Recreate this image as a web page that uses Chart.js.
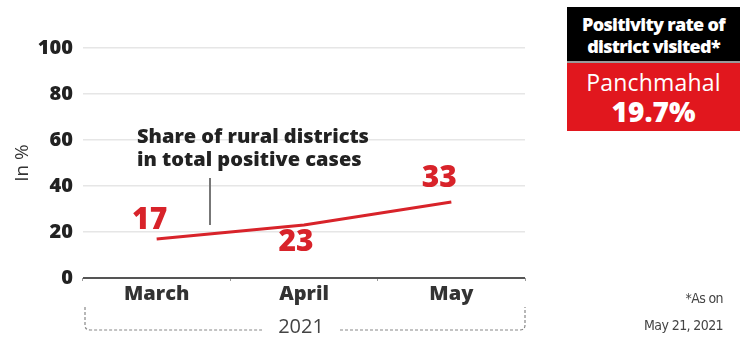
<!DOCTYPE html>
<html lang="en">
<head>
    <meta charset="UTF-8">
    <title>Share of rural districts in total positive cases</title>
    <script src="https://cdn.jsdelivr.net/npm/chart.js"></script>
    <style>
        body {
            margin: 0;
            background: #fff;
            font-family: "Open Sans", Arial, sans-serif;
        }
        .wrap {
            position: relative;
            width: 740px;
            height: 338px;
        }
        .panel {
            position: absolute;
            left: 567px;
            top: 7px;
            width: 173px;
            text-align: center;
            color: #fff;
        }
        .panel .head {
            background: #000;
            height: 56px;
            font-weight: 800;
            font-size: 18px;
            line-height: 22px;
            letter-spacing: -0.7px;
            padding-top: 6px;
            box-sizing: border-box;
            border-bottom: 2px solid #999;
            white-space: nowrap;
        }
        .panel .body {
            background: #e1171e;
            height: 68px;
            padding-top: 5px;
            box-sizing: border-box;
        }
        .panel .name {
            font-size: 23px;
            line-height: 28px;
            letter-spacing: 0.2px;
        }
        .panel .rate {
            font-size: 28px;
            font-weight: 800;
            line-height: 30px;
        }
        .note {
            position: absolute;
            right: 17px;
            top: 285px;
            text-align: right;
            font-family: "Liberation Sans Narrow", "DejaVu Sans Condensed", sans-serif;
            font-size: 14px;
            line-height: 27px;
            color: #444;
            letter-spacing: -0.6px;
        }
    </style>
</head>
<body>
<div class="wrap">
    <canvas id="chart" width="740" height="338"></canvas>
    <div class="panel">
        <div class="head">Positivity rate of<br>district visited*</div>
        <div class="body">
            <div class="name">Panchmahal</div>
            <div class="rate">19.7%</div>
        </div>
    </div>
    <div class="note">*As on<br>May 21, 2021</div>
</div>

<script>
    const months = ['March', 'April', 'May'];
    const ruralShare = [17, 23, 33];
    const yTicks = [0, 20, 40, 60, 80, 100];

    const RED = '#d8232a';
    const FONT = '"Open Sans", Arial, sans-serif';

    // value labels, callout text and the year bracket under the axis
    const extras = {
        id: 'extras',
        afterDatasetsDraw(chart) {
            const ctx = chart.ctx;
            const meta = chart.getDatasetMeta(0);
            const shifts = [[-7, -18], [-8, 17], [-12, -24]];
            ctx.save();
            ctx.fillStyle = RED;
            ctx.font = '800 30px ' + FONT;
            ctx.textAlign = 'center';
            ctx.textBaseline = 'middle';
            meta.data.forEach((pt, i) => {
                ctx.fillText(String(ruralShare[i]), pt.x + shifts[i][0], pt.y + shifts[i][1]);
            });

            // callout
            ctx.fillStyle = '#222';
            ctx.font = '800 20px ' + FONT;
            ctx.textAlign = 'left';
            ctx.fillText('Share of rural districts', 137, 137);
            ctx.fillText('in total positive cases', 137, 160);
            ctx.strokeStyle = '#777';
            ctx.lineWidth = 2;
            ctx.beginPath();
            ctx.moveTo(210, 178);
            ctx.lineTo(210, 225);
            ctx.stroke();

            // year bracket
            const x0 = chart.chartArea.left + 2;
            const x1 = chart.chartArea.right;
            const yTop = 307, yLine = 330, r = 5;
            ctx.strokeStyle = '#888';
            ctx.lineWidth = 1.2;
            ctx.setLineDash([3, 2]);
            ctx.beginPath();
            ctx.moveTo(x0, yTop);
            ctx.lineTo(x0, yLine - r);
            ctx.quadraticCurveTo(x0, yLine, x0 + r, yLine);
            ctx.lineTo(262, yLine);
            ctx.moveTo(340, yLine);
            ctx.lineTo(x1 - r, yLine);
            ctx.quadraticCurveTo(x1, yLine, x1, yLine - r);
            ctx.lineTo(x1, yTop);
            ctx.stroke();
            ctx.setLineDash([]);
            ctx.fillStyle = '#444';
            ctx.font = '20px ' + FONT;
            ctx.textAlign = 'center';
            ctx.fillText('2021', 301, 327);
            ctx.restore();
        }
    };

    new Chart(document.getElementById('chart'), {
        type: 'line',
        data: {
            labels: months,
            datasets: [{
                data: ruralShare,
                borderColor: RED,
                borderWidth: 3,
                pointRadius: 0,
                tension: 0
            }]
        },
        options: {
            responsive: false,
            animation: false,
            layout: { padding: { top: 48, right: 215, bottom: 0, left: 0 } },
            plugins: {
                legend: { display: false },
                tooltip: { enabled: false }
            },
            scales: {
                x: {
                    offset: true,
                    afterFit(scale) { scale.height = 60; },
                    border: { display: false },
                    grid: {
                        offset: true,
                        drawOnChartArea: false,
                        tickLength: 3,
                        color: '#999'
                    },
                    ticks: {
                        color: '#333',
                        padding: 1,
                        font: { family: FONT, size: 20, weight: '800' }
                    }
                },
                y: {
                    min: 0,
                    max: 100,
                    afterFit(scale) { scale.width = 83; },
                    afterBuildTicks(scale) {
                        scale.ticks = yTicks.map(v => ({ value: v }));
                    },
                    border: { display: false },
                    grid: {
                        drawTicks: false,
                        color: ctx => ctx.tick.value === 0 ? '#555' : '#e6e6e6',
                        lineWidth: ctx => ctx.tick.value === 0 ? 2 : 1.5
                    },
                    ticks: {
                        color: '#222',
                        padding: 10,
                        font: { family: FONT, size: 20, weight: '800' }
                    },
                    title: {
                        display: true,
                        text: 'In %',
                        color: '#333',
                        padding: { top: 11, bottom: 0 },
                        font: { family: FONT, size: 19 }
                    }
                }
            }
        },
        plugins: [extras]
    });
</script>
</body>
</html>
